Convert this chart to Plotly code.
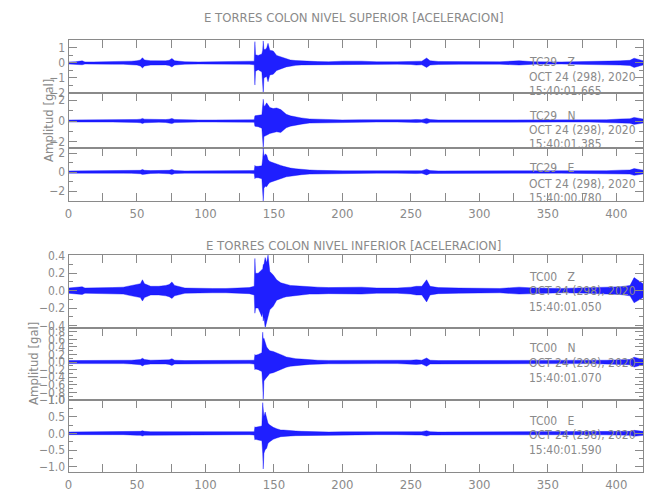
import plotly.graph_objects as go

# ---------------- data ----------------
# Common time grid (seconds) on which the waveform envelopes were read
time_s = [0, 5, 10, 12, 18, 25, 32, 40, 46, 50,
          52.5, 54, 55.5, 60, 66, 71, 73.5, 75.5, 77.5, 85,
          95, 105, 115, 125, 132, 135.6, 136.1, 136.6, 138.5, 141.2,
          141.8, 142.2, 142.7, 143.6, 144.7, 145.7, 147, 149.5, 152, 155,
          157, 159, 162, 166, 170, 176, 182, 190, 200, 214,
          225, 240, 250, 254, 258, 261.5, 264, 270, 285, 300,
          315, 329, 340, 360, 380, 393, 403, 410, 413, 419.5]

# Upper / lower envelope of each acceleration record [gal]
tc29_z_top = [0.07, 0.08, 0.14, 0.07, 0.07, 0.07, 0.08, 0.08, 0.12, 0.15,
              0.2, 0.35, 0.2, 0.15, 0.12, 0.14, 0.18, 0.3, 0.15, 0.08,
              0.07, 0.07, 0.07, 0.08, 0.09, 0.12, 1.42, 0.55, 0.5, 0.6,
              0.85, 1.47, 0.9, 0.9, 1.0, 1.31, 0.85, 0.8, 0.5, 0.4,
              0.33, 0.26, 0.2, 0.16, 0.13, 0.11, 0.09, 0.08, 0.12, 0.12,
              0.08, 0.08, 0.1, 0.15, 0.12, 0.33, 0.15, 0.1, 0.1, 0.07,
              0.08, 0.15, 0.08, 0.07, 0.08, 0.12, 0.14, 0.18, 0.32, 0.15]
tc29_z_bot = [-0.07, -0.08, -0.12, -0.07, -0.07, -0.07, -0.08, -0.08, -0.12, -0.14,
              -0.2, -0.33, -0.2, -0.14, -0.12, -0.13, -0.17, -0.27, -0.14, -0.08,
              -0.07, -0.07, -0.07, -0.08, -0.09, -0.12, -1.47, -0.55, -0.45, -0.6,
              -0.9, -2.0, -1.0, -0.95, -0.9, -1.25, -0.8, -0.75, -0.5, -0.38,
              -0.33, -0.26, -0.2, -0.16, -0.13, -0.11, -0.09, -0.08, -0.1, -0.11,
              -0.08, -0.08, -0.1, -0.14, -0.12, -0.3, -0.14, -0.1, -0.09, -0.07,
              -0.08, -0.14, -0.08, -0.07, -0.08, -0.12, -0.14, -0.17, -0.3, -0.14]

tc29_n_top = [0.1, 0.1, 0.15, 0.1, 0.1, 0.1, 0.1, 0.1, 0.12, 0.15,
              0.18, 0.25, 0.18, 0.15, 0.13, 0.14, 0.18, 0.25, 0.15, 0.1,
              0.1, 0.1, 0.1, 0.1, 0.11, 0.12, 0.5, 0.5, 0.55, 0.6,
              1.2, 2.1, 1.4, 1.5, 1.75, 1.6, 1.3, 1.2, 1.26, 1.1,
              0.9, 0.65, 0.5, 0.38, 0.3, 0.2, 0.16, 0.12, 0.11, 0.12,
              0.1, 0.1, 0.12, 0.15, 0.13, 0.25, 0.14, 0.1, 0.1, 0.1,
              0.1, 0.12, 0.1, 0.1, 0.1, 0.12, 0.2, 0.22, 0.35, 0.2]
tc29_n_bot = [-0.1, -0.1, -0.14, -0.1, -0.1, -0.1, -0.1, -0.1, -0.12, -0.14,
              -0.17, -0.24, -0.17, -0.14, -0.12, -0.14, -0.17, -0.25, -0.15, -0.1,
              -0.1, -0.1, -0.1, -0.1, -0.11, -0.12, -0.5, -0.5, -0.55, -0.7,
              -1.3, -2.6, -1.5, -1.4, -1.36, -1.3, -1.2, -1.1, -1.04, -1.1,
              -0.9, -0.65, -0.5, -0.38, -0.3, -0.2, -0.16, -0.12, -0.11, -0.12,
              -0.1, -0.1, -0.12, -0.14, -0.12, -0.25, -0.13, -0.1, -0.1, -0.1,
              -0.1, -0.12, -0.1, -0.1, -0.1, -0.12, -0.2, -0.22, -0.33, -0.2]

tc29_e_top = [0.12, 0.12, 0.16, 0.12, 0.12, 0.12, 0.12, 0.12, 0.14, 0.16,
              0.18, 0.27, 0.18, 0.15, 0.14, 0.15, 0.18, 0.26, 0.16, 0.12,
              0.12, 0.12, 0.12, 0.12, 0.13, 0.15, 0.7, 0.6, 0.6, 0.65,
              1.4, 2.5, 1.6, 1.9, 1.8, 1.3, 1.1, 1.0, 0.85, 0.7,
              0.6, 0.5, 0.42, 0.34, 0.28, 0.22, 0.18, 0.14, 0.13, 0.13,
              0.12, 0.12, 0.13, 0.16, 0.14, 0.3, 0.15, 0.12, 0.12, 0.12,
              0.12, 0.13, 0.12, 0.12, 0.12, 0.14, 0.2, 0.22, 0.36, 0.2]
tc29_e_bot = [-0.12, -0.12, -0.15, -0.12, -0.12, -0.12, -0.12, -0.12, -0.14, -0.15,
              -0.18, -0.26, -0.18, -0.15, -0.14, -0.15, -0.18, -0.25, -0.16, -0.12,
              -0.12, -0.12, -0.12, -0.12, -0.13, -0.15, -0.7, -0.6, -0.6, -0.7,
              -1.6, -3.05, -1.7, -1.5, -1.55, -1.3, -1.1, -1.0, -0.85, -0.7,
              -0.6, -0.5, -0.42, -0.34, -0.28, -0.22, -0.18, -0.14, -0.13, -0.13,
              -0.12, -0.12, -0.13, -0.16, -0.14, -0.3, -0.15, -0.12, -0.12, -0.12,
              -0.12, -0.13, -0.12, -0.12, -0.12, -0.14, -0.2, -0.22, -0.35, -0.2]

tc00_z_top = [0.03, 0.035, 0.045, 0.03, 0.03, 0.03, 0.035, 0.04, 0.06, 0.07,
              0.08, 0.125, 0.08, 0.05, 0.05, 0.06, 0.07, 0.1, 0.06, 0.03,
              0.025, 0.025, 0.025, 0.03, 0.035, 0.05, 0.37, 0.2, 0.2, 0.24,
              0.25, 0.3, 0.3, 0.38, 0.32, 0.41, 0.22, 0.18, 0.125, 0.09,
              0.08, 0.07, 0.06, 0.055, 0.05, 0.04, 0.04, 0.035, 0.035, 0.04,
              0.03, 0.03, 0.04, 0.05, 0.05, 0.125, 0.05, 0.035, 0.03, 0.025,
              0.025, 0.04, 0.03, 0.025, 0.03, 0.04, 0.045, 0.06, 0.15, 0.08]
tc00_z_bot = [-0.03, -0.035, -0.045, -0.03, -0.03, -0.03, -0.035, -0.04, -0.06, -0.07,
              -0.08, -0.12, -0.08, -0.05, -0.05, -0.06, -0.07, -0.09, -0.06, -0.03,
              -0.025, -0.025, -0.025, -0.03, -0.035, -0.05, -0.26, -0.2, -0.2, -0.3,
              -0.25, -0.35, -0.3, -0.43, -0.36, -0.3, -0.22, -0.18, -0.11, -0.09,
              -0.08, -0.07, -0.06, -0.055, -0.05, -0.04, -0.04, -0.035, -0.035, -0.04,
              -0.03, -0.03, -0.04, -0.05, -0.05, -0.13, -0.05, -0.035, -0.03, -0.025,
              -0.025, -0.04, -0.03, -0.025, -0.03, -0.04, -0.045, -0.06, -0.14, -0.08]

tc00_n_top = [0.04, 0.04, 0.05, 0.04, 0.04, 0.04, 0.04, 0.04, 0.05, 0.06,
              0.07, 0.1, 0.07, 0.05, 0.05, 0.05, 0.06, 0.09, 0.05, 0.04,
              0.04, 0.04, 0.04, 0.04, 0.04, 0.05, 0.2, 0.18, 0.2, 0.25,
              0.79, 0.6, 0.63, 0.5, 0.4, 0.35, 0.3, 0.28, 0.25, 0.2,
              0.17, 0.135, 0.11, 0.09, 0.08, 0.06, 0.05, 0.045, 0.045, 0.05,
              0.04, 0.04, 0.05, 0.06, 0.05, 0.11, 0.05, 0.04, 0.04, 0.04,
              0.04, 0.05, 0.04, 0.04, 0.04, 0.05, 0.06, 0.07, 0.13, 0.07]
tc00_n_bot = [-0.04, -0.04, -0.05, -0.04, -0.04, -0.04, -0.04, -0.04, -0.05, -0.06,
              -0.07, -0.1, -0.07, -0.05, -0.05, -0.05, -0.06, -0.09, -0.05, -0.04,
              -0.04, -0.04, -0.04, -0.04, -0.04, -0.05, -0.2, -0.18, -0.2, -0.25,
              -0.6, -1.0, -0.5, -0.45, -0.4, -0.35, -0.3, -0.28, -0.25, -0.2,
              -0.17, -0.135, -0.11, -0.09, -0.08, -0.06, -0.05, -0.045, -0.045, -0.05,
              -0.04, -0.04, -0.05, -0.06, -0.05, -0.11, -0.05, -0.04, -0.04, -0.04,
              -0.04, -0.05, -0.04, -0.04, -0.04, -0.05, -0.06, -0.07, -0.13, -0.07]

tc00_e_top = [0.04, 0.04, 0.05, 0.04, 0.04, 0.04, 0.04, 0.04, 0.05, 0.06,
              0.06, 0.08, 0.06, 0.05, 0.05, 0.05, 0.05, 0.06, 0.05, 0.04,
              0.04, 0.04, 0.04, 0.04, 0.04, 0.05, 0.2, 0.18, 0.2, 0.22,
              0.92, 0.7, 0.5, 0.64, 0.45, 0.3, 0.25, 0.18, 0.14, 0.1,
              0.1, 0.09, 0.08, 0.07, 0.06, 0.05, 0.045, 0.04, 0.045, 0.045,
              0.04, 0.04, 0.045, 0.05, 0.05, 0.08, 0.05, 0.04, 0.04, 0.04,
              0.04, 0.045, 0.04, 0.04, 0.04, 0.045, 0.05, 0.06, 0.09, 0.06]
tc00_e_bot = [-0.04, -0.04, -0.05, -0.04, -0.04, -0.04, -0.04, -0.04, -0.05, -0.06,
              -0.06, -0.08, -0.06, -0.05, -0.05, -0.05, -0.05, -0.06, -0.05, -0.04,
              -0.04, -0.04, -0.04, -0.04, -0.04, -0.05, -0.2, -0.18, -0.2, -0.22,
              -0.6, -1.07, -0.6, -0.49, -0.45, -0.3, -0.25, -0.18, -0.14, -0.1,
              -0.1, -0.09, -0.08, -0.07, -0.06, -0.05, -0.045, -0.04, -0.045, -0.045,
              -0.04, -0.04, -0.045, -0.05, -0.05, -0.08, -0.05, -0.04, -0.04, -0.04,
              -0.04, -0.045, -0.04, -0.04, -0.04, -0.045, -0.05, -0.06, -0.09, -0.06]

# Panel labels
stations = ["TC29", "TC29", "TC29", "TC00", "TC00", "TC00"]
channels = ["Z", "N", "E", "Z", "N", "E"]
date_label = "OCT 24 (298), 2020"
start_times = ["15:40:01.665", "15:40:01.385", "15:40:00.780",
               "15:40:01.050", "15:40:01.070", "15:40:01.590"]
titles = ["E TORRES COLON NIVEL SUPERIOR [ACELERACION]",
          "E TORRES COLON NIVEL INFERIOR [ACELERACION]"]
y_title = "Amplitud [gal]"

# Axis settings
x_range = [0, 419.5]
x_tickvals = [0, 25, 50, 75, 100, 125, 150, 175, 200, 225, 250, 275, 300, 325, 350, 375, 400]
x_ticktext = ["0", "", "50", "", "100", "", "150", "", "200", "", "250", "", "300", "", "350", "", "400"]
y_ranges = [[-2.0, 1.53], [-2.6, 2.7], [-3.05, 2.53], [-0.43, 0.41], [-1.0, 0.9], [-1.16, 1.0]]
y_dticks = [1, 2, 2, 0.2, 0.2, 0.5]
y_minor = [0.5, 1, 1, 0.1, 0.1, 0.25]
y_formats = ["d", "d", "d", ".1f", ".1f", ".1f"]

tops = [tc29_z_top, tc29_n_top, tc29_e_top, tc00_z_top, tc00_n_top, tc00_e_top]
bots = [tc29_z_bot, tc29_n_bot, tc29_e_bot, tc00_z_bot, tc00_n_bot, tc00_e_bot]

# ---------------- layout geometry (pixels of the 650x500 canvas) ----------------
W, H = 650, 500
x_dom = [68.5 / W, 643 / W]
panel_px = [(40, 93), (93, 148), (148, 201), (255, 328), (328, 400), (400, 472)]
label_px = [(62, 77, 91), (116, 130, 144), (168, 184, 198),
            (277, 291, 307), (348, 363, 378), (421, 435, 450)]

GRAY = "#8a8a8a"
FONT = "Liberation Sans Narrow, DejaVu Sans Condensed, Liberation Sans, sans-serif"
BLUE_FILL = "rgba(0,0,255,0.88)"

fig = go.Figure()
layout = dict(
    width=W, height=H, margin=dict(l=0, r=0, t=0, b=0, autoexpand=False),
    paper_bgcolor="white", plot_bgcolor="white", showlegend=False,
    font=dict(family=FONT, color=GRAY, size=12),
)

for i in range(6):
    n = i + 1
    xa = "x" if n == 1 else f"x{n}"
    ya = "y" if n == 1 else f"y{n}"
    fig.add_trace(go.Scatter(
        x=time_s + time_s[::-1],
        y=tops[i] + bots[i][::-1],
        mode="lines", fill="toself", fillcolor=BLUE_FILL,
        line=dict(color="rgba(0,0,255,0.6)", width=0.6),
        xaxis=xa, yaxis=ya, hoverinfo="skip",
    ))
    top_px, bot_px = panel_px[i]
    ydom = [1 - bot_px / H, 1 - top_px / H]
    last = i in (2, 5)
    xaxis = dict(
        domain=x_dom, range=x_range, anchor=ya, automargin=False,
        tickmode="array", tickvals=x_tickvals, ticktext=x_ticktext,
        ticks="inside", ticklen=8, tickcolor=GRAY, tickwidth=1,
        showline=True, linecolor=GRAY, linewidth=1,
        showgrid=False, zeroline=False, fixedrange=True,
        tickfont=dict(size=13, color=GRAY, family=FONT),
    )
    if last:
        xaxis.update(side="bottom", mirror="ticks", showticklabels=True)
    else:
        xaxis.update(side="top", mirror=True, showticklabels=False)
    yaxis = dict(
        domain=ydom, range=y_ranges[i], anchor=xa, automargin=False,
        tick0=0, dtick=y_dticks[i], tickformat=y_formats[i],
        ticks="inside", ticklen=8, tickcolor=GRAY, tickwidth=1,
        minor=dict(ticks="inside", ticklen=4, dtick=y_minor[i], tick0=0, tickcolor=GRAY),
        showline=True, linecolor=GRAY, linewidth=1, mirror="ticks",
        showgrid=False, zeroline=False, fixedrange=True,
        tickfont=dict(size=12, color=GRAY, family=FONT),
    )
    layout["xaxis" if n == 1 else f"xaxis{n}"] = xaxis
    layout["yaxis" if n == 1 else f"yaxis{n}"] = yaxis

annotations = []
for i in range(6):
    for txt, ypx in zip([stations[i] + "\u00a0\u00a0\u00a0" + channels[i], date_label, start_times[i]],
                        label_px[i]):
        annotations.append(dict(
            text=txt, xref="paper", yref="paper", x=527 / W, y=1 - ypx / H,
            xanchor="left", yanchor="middle", showarrow=False,
            font=dict(size=12, color=GRAY, family=FONT),
        ))
for txt, ypx in zip(titles, [17, 245]):
    annotations.append(dict(
        text=txt, xref="paper", yref="paper", x=353 / W, y=1 - ypx / H,
        xanchor="center", yanchor="middle", showarrow=False,
        font=dict(size=13, color=GRAY, family=FONT),
    ))
for xpx, ypx in [(48, 121), (33, 364)]:
    annotations.append(dict(
        text=y_title, xref="paper", yref="paper", x=xpx / W, y=1 - ypx / H,
        xanchor="center", yanchor="middle", showarrow=False, textangle=-90,
        font=dict(size=13, color=GRAY, family=FONT),
    ))
layout["annotations"] = annotations

fig.update_layout(**layout)
# remove the page's default 8px body margin so the figure fills the window exactly
fig.write_html("out.html", config={"displayModeBar": False},
               post_script="document.body.style.margin='0';")
